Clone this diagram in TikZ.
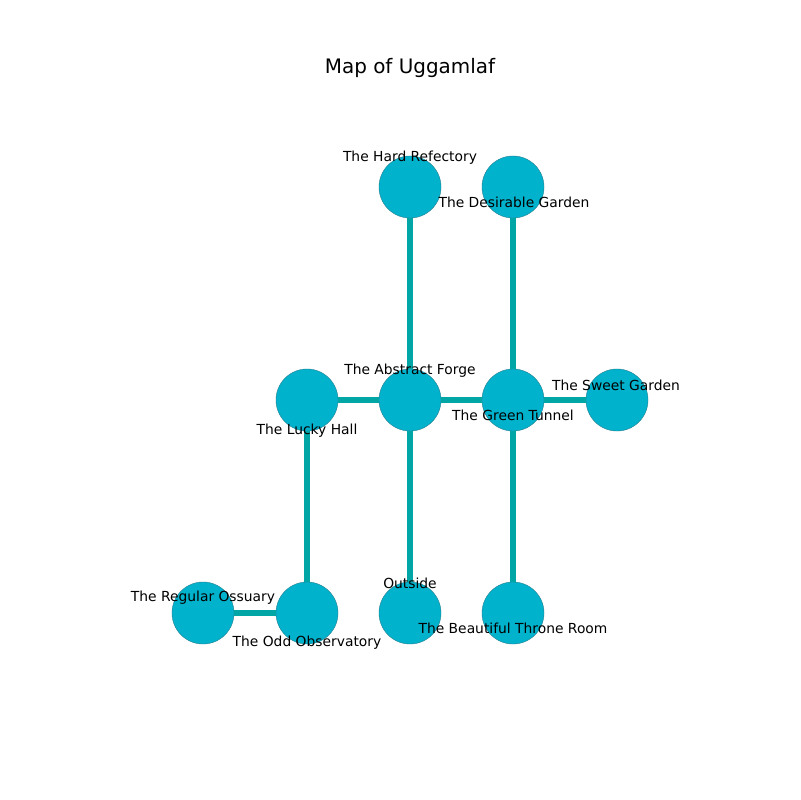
\documentclass[tikz,border=0pt]{standalone}
\usepackage{fontspec}
\setmainfont{DejaVu Sans}
\definecolor{nodefill}{HTML}{00B2CC}
\definecolor{edgecol}{HTML}{00A6A6}
\definecolor{nodeedge}{HTML}{2A8090}
\begin{document}
\begin{tikzpicture}[x=0.01in,y=-0.01in,
  room/.style={circle,fill=nodefill,draw=nodeedge,line width=0.3pt,minimum size=0.62in,inner sep=0pt},
  link/.style={draw=edgecol,line width=4pt,shorten <=-0.3pt,shorten >=-0.3pt},
  lbl/.style={font=\fontsize{10}{12}\selectfont,inner sep=0pt,anchor=center}]
\useasboundingbox (0,0) rectangle (800,800);
\node[font=\fontsize{14.4}{17}\selectfont] (title) at (410,68) {Map of Uggamlaf};
\node[room] (hr) at (410,187) {};
\node[room] (dg) at (513,187) {};
\node[room] (lh) at (307,400) {};
\node[room] (af) at (410,400) {};
\node[room] (gt) at (513,400) {};
\node[room] (sg) at (617,400) {};
\node[room] (ro) at (203,613) {};
\node[room] (oo) at (307,613) {};
\node[room] (ou) at (410,613) {};
\node[room] (bt) at (513,613) {};
\draw[link] (hr) -- (af);
\draw[link] (dg) -- (gt);
\draw[link] (lh) -- (af);
\draw[link] (af) -- (gt);
\draw[link] (gt) -- (sg);
\draw[link] (lh) -- (oo);
\draw[link] (af) -- (ou);
\draw[link] (gt) -- (bt);
\draw[link] (ro) -- (oo);
\node[lbl] (lhr) at (410,158) {The Hard Refectory};
\node[lbl] (ldg) at (514,202) {The Desirable Garden};
\node[lbl] (laf) at (410,371) {The Abstract Forge};
\node[lbl] (lsg) at (616,385) {The Sweet Garden};
\node[lbl] (lgt) at (513,415) {The Green Tunnel};
\node[lbl] (llh) at (307,431) {The Lucky Hall};
\node[lbl] (lro) at (203,598) {The Regular Ossuary};
\node[lbl] (loo) at (307,643) {The Odd Observatory};
\node[lbl] (lou) at (410,583) {Outside};
\node[lbl] (lbt) at (513,628) {The Beautiful Throne Room};
\end{tikzpicture}
\end{document}
